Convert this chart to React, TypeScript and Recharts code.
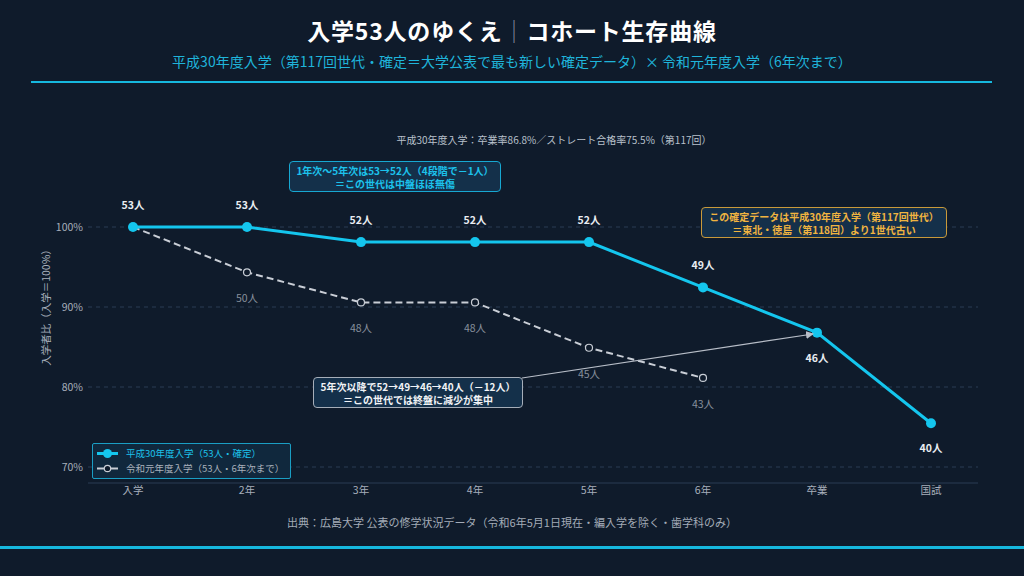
import { LineChart, Line, XAxis, YAxis, CartesianGrid } from 'recharts'

// 入学者コホート: 平成30年度入学(確定) と 令和元年度入学(6年次まで)
const STAGES = ['入学', '2年', '3年', '4年', '5年', '6年', '卒業', '国試']
const H30 = [53, 53, 52, 52, 52, 49, 46, 40]
const R1 = [53, 50, 48, 48, 45, 43]
const ENROLLED = 53
const Y_TICKS = [70, 80, 90, 100]

const BG = '#0f1b2b'
const CYAN = '#14c6ee'
const GRAY = '#c9ced6'
const INK2 = '#a7afbb'
const GRID = '#2b3c54'
const FONT = '"Noto Sans CJK JP", "Noto Sans", sans-serif'

const rows = STAGES.map((s, i) => ({
  stage: s,
  h30: (H30[i] / ENROLLED) * 100,
  r1: R1[i] != null ? (R1[i] / ENROLLED) * 100 : null,
}))

// ラベル: 卒業・国試だけ点の下、それ以外は上
function labelH30(p: any) {
  const below = p.index >= 6
  return (
    <text key={`a${p.index}`} x={p.x} y={below ? p.y + 29 : p.y - 18} textAnchor="middle"
      fill="#e9edf2" fontSize={10.5} fontWeight={700} fontFamily={FONT}>
      {H30[p.index]}人
    </text>
  )
}

function labelR1(p: any) {
  if (p.index === 0 || R1[p.index] == null) return null
  return (
    <text key={`b${p.index}`} x={p.x} y={p.y + 30} textAnchor="middle"
      fill="#87909c" fontSize={10.5} fontFamily={FONT}>
      {R1[p.index]}人
    </text>
  )
}

function Note({ left, top, width, border, color, lines }: {
  left: number; top: number; width: number; border: string; color: string; lines: string[]
}) {
  return (
    <div style={{
      position: 'absolute', left, top, width, height: 31, boxSizing: 'border-box',
      border: `1.5px solid ${border}`, borderRadius: 4, background: '#14304a',
      color, fontSize: 10, fontWeight: 700, lineHeight: '13px', textAlign: 'center',
      paddingTop: 1.5, fontFamily: FONT, whiteSpace: 'nowrap',
    }}>
      {lines.map((l) => <div key={l}>{l}</div>)}
    </div>
  )
}

export default function App() {
  return (
    <div style={{ position: 'fixed', left: 0, top: 0, width: 1024, height: 576, background: BG, fontFamily: FONT, overflow: 'hidden' }}>
      <div style={{ position: 'absolute', left: 0, top: 0 }}>
        <LineChart width={1024} height={576} data={rows} margin={{ top: 147, right: 46, bottom: 63, left: 48 }}>
          <CartesianGrid stroke={GRID} strokeDasharray="4 4" vertical={false} horizontalValues={Y_TICKS} />
          <XAxis dataKey="stage" padding={{ left: 45, right: 47 }} tickLine={false} tickSize={0} tickMargin={4}
            axisLine={{ stroke: GRID }} tick={{ fontSize: 10.5, fill: INK2, fontFamily: FONT }} interval={0} />
          <YAxis domain={[68, 110]} ticks={Y_TICKS} width={40} axisLine={false} tickLine={false} tickSize={0} tickMargin={5}
            allowDataOverflow tickFormatter={(v) => `${v}%`} tick={{ fontSize: 10.5, fill: INK2, fontFamily: FONT }} />
          <Line dataKey="r1" stroke={GRAY} strokeWidth={2} strokeDasharray="7 4" isAnimationActive={false}
            dot={{ r: 3.5, fill: BG, stroke: GRAY, strokeWidth: 1.2, strokeDasharray: '' }} label={labelR1} />
          <Line dataKey="h30" stroke={CYAN} strokeWidth={3} isAnimationActive={false}
            dot={{ r: 5, fill: CYAN, stroke: CYAN, strokeWidth: 0 }} label={labelH30} />
        </LineChart>
      </div>

      <div style={{ position: 'absolute', left: 0, width: 1024, top: 13, textAlign: 'center', color: '#ffffff', fontSize: 23, fontWeight: 700, letterSpacing: 0.8, whiteSpace: 'nowrap' }}>
        入学53人のゆくえ<span style={{ color: '#8a93a0', fontWeight: 300 }}>｜</span>コホート生存曲線
      </div>
      <div style={{ position: 'absolute', left: 0, width: 1024, top: 51, textAlign: 'center', color: '#1fb4da', fontSize: 14, whiteSpace: 'nowrap' }}>
        平成30年度入学（第117回世代・確定＝大学公表で最も新しい確定データ）× 令和元年度入学（6年次まで）
      </div>
      <div style={{ position: 'absolute', left: 31, width: 961, top: 81, height: 2, background: '#16b8de' }} />
      <div style={{ position: 'absolute', left: 354, width: 400, top: 132, textAlign: 'center', color: '#b9c1cc', fontSize: 10, whiteSpace: 'nowrap' }}>
        平成30年度入学：卒業率86.8%／ストレート合格率75.5%（第117回）
      </div>

      <svg width={1024} height={576} style={{ position: 'absolute', left: 0, top: 0, pointerEvents: 'none' }}>
        <defs>
          <marker id="arr" markerWidth="8" markerHeight="8" refX="7" refY="4" orient="auto" markerUnits="userSpaceOnUse">
            <path d="M0,0 L8,4 L0,8 Z" fill="#b8bec8" />
          </marker>
        </defs>
        <line x1={522} y1={378} x2={813} y2={334} stroke="#b8bec8" strokeWidth={1.2} markerEnd="url(#arr)" />
        <text x={50} y={305} transform="rotate(-90 50 305)" textAnchor="middle" fill={INK2} fontSize={10.5} fontFamily={FONT}>
          入学者比（入学＝100%）
        </text>
      </svg>

      <Note left={289} top={161} width={212} border="#17a8d2" color="#1cc2ec"
        lines={['1年次〜5年次は53→52人（4段階で－1人）', '＝この世代は中盤ほぼ無傷']} />
      <Note left={313} top={377} width={210} border="#a6aeb9" color="#f1f3f6"
        lines={['5年次以降で52→49→46→40人（－12人）', '＝この世代では終盤に減少が集中']} />
      <Note left={701} top={207} width={246} border="#c99a3a" color="#f0b440"
        lines={['この確定データは平成30年度入学（第117回世代）', '＝東北・徳島（第118回）より1世代古い']} />

      <div style={{ position: 'absolute', left: 92, top: 443, width: 199, height: 36, boxSizing: 'border-box',
        border: '1.2px solid #1a9ec4', borderRadius: 2, background: '#10283d', fontSize: 9.5, lineHeight: '15px', paddingTop: 2 }}>
        <div style={{ display: 'flex', alignItems: 'center', color: '#1cc2ec' }}>
          <svg width={30} height={15}><line x1={4} y1={7.5} x2={25} y2={7.5} stroke={CYAN} strokeWidth={3} /><circle cx={14.5} cy={7.5} r={4.5} fill={CYAN} /></svg>
          <span style={{ marginLeft: 3 }}>平成30年度入学（53人・確定）</span>
        </div>
        <div style={{ display: 'flex', alignItems: 'center', color: '#a8b0bb' }}>
          <svg width={30} height={15}><line x1={4} y1={7.5} x2={25} y2={7.5} stroke={GRAY} strokeWidth={2} /><circle cx={14.5} cy={7.5} r={3.2} fill={BG} stroke={GRAY} strokeWidth={1.2} /></svg>
          <span style={{ marginLeft: 3 }}>令和元年度入学（53人・6年次まで）</span>
        </div>
      </div>

      <div style={{ position: 'absolute', left: 0, width: 1024, top: 514, textAlign: 'center', color: '#a3abb7', fontSize: 11, whiteSpace: 'nowrap' }}>
        出典：広島大学 公表の修学状況データ（令和6年5月1日現在・編入学を除く・歯学科のみ）
      </div>
      <div style={{ position: 'absolute', left: 0, width: 1024, top: 546, height: 3, background: '#16b8de' }} />
    </div>
  )
}
